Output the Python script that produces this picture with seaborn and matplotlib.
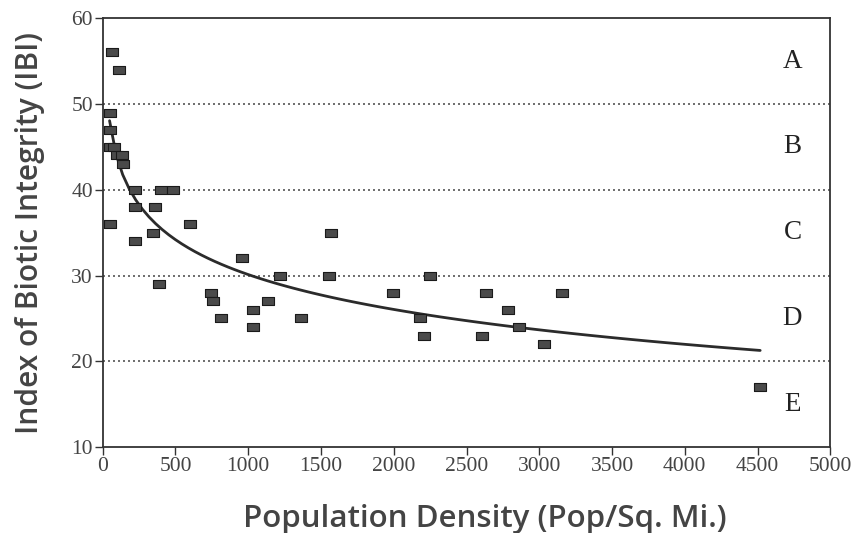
import numpy as np
import pandas as pd
import seaborn as sns
import matplotlib.pyplot as plt

# population density (pop / sq. mi.) and IBI score
density = [62, 110, 48, 47, 50, 80, 100, 130, 140, 48,
           220, 220, 220, 400, 480, 360, 345, 385, 600,
           745, 757, 812, 960, 1032, 1032, 1135, 1217, 1362,
           1568, 1554, 1994, 2180, 2208, 2249, 2634, 2606,
           2785, 2861, 3033, 3157, 4518]
ibi = [56, 54, 49, 47, 45, 45, 44, 44, 43, 36,
       40, 38, 34, 40, 40, 38, 35, 29, 36,
       28, 27, 25, 32, 26, 24, 27, 30, 25,
       35, 30, 28, 25, 23, 30, 28, 23,
       26, 24, 22, 28, 17]

class_bounds = [50, 40, 30, 20]
class_labels = ['A', 'B', 'C', 'D', 'E']
class_label_y = [55, 45, 35, 25, 15]

df = pd.DataFrame({'density': density, 'ibi': ibi})

sns.set_style('ticks')
fig = plt.figure(figsize=(8.56, 5.33), dpi=100)
ax = fig.add_axes([0.120, 0.161, 0.850, 0.805])

for yb in class_bounds:
    ax.axhline(yb, color='#555555', lw=1.2, ls=(0, (1.2, 1.8)), zorder=1)

# log fit through the points
sns.regplot(data=df, x='density', y='ibi', logx=True, ci=None, scatter=False,
            line_kws={'color': '#2b2b2b', 'lw': 2}, ax=ax)

box = [(-1, -0.6), (1, -0.6), (1, 0.6), (-1, 0.6), (-1, -0.6)]
sns.scatterplot(data=df, x='density', y='ibi', marker=box, s=85,
                color='#4a4a4a', edgecolor='#1a1a1a', linewidth=0.8,
                zorder=3, ax=ax)

for lab, yl in zip(class_labels, class_label_y):
    ax.text(4740, yl, lab, ha='center', va='center', fontsize=19.5,
            family='Liberation Serif', color='#222222')

ax.set_xlim(0, 5000)
ax.set_ylim(10, 60)
ax.set_xticks(range(0, 5001, 500))
ax.set_yticks(range(10, 61, 10))
ax.tick_params(labelsize=15.5, length=6, width=1, color='#333333', pad=1)
for lbl in ax.get_xticklabels() + ax.get_yticklabels():
    lbl.set_family('Liberation Serif')
    lbl.set_color('#444444')

for sp in ax.spines.values():
    sp.set_visible(True)
    sp.set_color('#333333')
    sp.set_linewidth(1.3)

ax.set_xlabel('Population Density (Pop/Sq. Mi.)', fontsize=22.5,
              family='Open Sans', weight='semibold', color='#444444')
ax.set_ylabel('Index of Biotic Integrity (IBI)', fontsize=21.5,
              family='Open Sans', weight='semibold', color='#444444')
ax.xaxis.set_label_coords(0.525, -0.133)
ax.yaxis.set_label_coords(-0.079, 0.5)

fig.savefig('out.png', dpi=100)
